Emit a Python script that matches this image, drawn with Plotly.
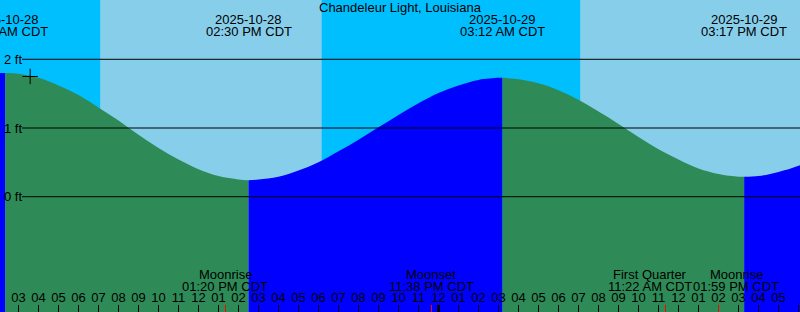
import pandas as pd
import plotly.graph_objects as go

# ---------------- data ----------------
STATION = "Chandeleur Light, Louisiana"

# hourly tide heights (ft), 2025-10-28 02:00 .. 2025-10-29 19:00
SAMPLE_START = "2025-10-28 02:00"
HEIGHTS = [1.80, 1.79, 1.73, 1.62, 1.48, 1.30, 1.11, 0.90, 0.71, 0.54, 0.40, 0.30,
           0.25, 0.25, 0.29, 0.38, 0.50, 0.66, 0.83, 1.01, 1.19, 1.36, 1.51, 1.62,
           1.70, 1.73, 1.71, 1.65, 1.55, 1.41, 1.24, 1.06, 0.87, 0.69, 0.54, 0.41,
           0.33, 0.29, 0.30, 0.36, 0.45, 0.59]

# high / low tides
EXT_TIMES = ["2025-10-28 02:20", "2025-10-28 14:30", "2025-10-29 03:12", "2025-10-29 15:17"]
EXT_HEIGHTS = [1.80, 0.24, 1.73, 0.29]
EXT_TYPES = ["High", "Low", "High", "Low"]

# sun events (day / night shading)
SUNRISE = ["2025-10-28 07:05", "2025-10-29 07:05"]
SUNSET = ["2025-10-28 18:10"]

# moon events
MOON_NAMES = ["Moonrise", "Moonset", "First Quarter", "Moonrise"]
MOON_TIMES = ["2025-10-28 13:20", "2025-10-28 23:38", "2025-10-29 11:22", "2025-10-29 13:59"]

# current time mark
NOW_TIME = "2025-10-28 03:35"
NOW_HEIGHT = 1.75

FT_LEVELS = [0, 1, 2]
FT_LABELS = ["0 ft", "1 ft", "2 ft"]

X_RANGE = ["2025-10-28 02:04:30", "2025-10-29 18:04:30"]
Y_RANGE = [-1.678, 2.863]

# ---------------- styles ----------------
NIGHT = "#00BFFF"
DAY = "#87CEEB"
RISING = "#0000FF"
FALLING = "#2E8B57"
FONT = dict(family="Liberation Sans", size=13, color="black")
W, H = 800, 312
MOON_LABEL_SHIFT = [0, 0, -16, 18]   # px, labels nudged apart to avoid overlap
GRID_X0 = 22                          # px where the level lines start

sample_times = pd.date_range(SAMPLE_START, periods=len(HEIGHTS), freq="h")
ext_index = pd.to_datetime(EXT_TIMES)
series = pd.concat([
    pd.Series(HEIGHTS, index=sample_times),
    pd.Series(EXT_HEIGHTS, index=ext_index),
]).sort_index()
series = series[~series.index.duplicated(keep="last")]

bounds = [series.index[0]] + list(ext_index) + [series.index[-1]]
# segment i ends at extreme i (rising if that is a high); last segment follows the last extreme
seg_rising = [t == "High" for t in EXT_TYPES] + [EXT_TYPES[-1] == "Low"]

fig = go.Figure()
for (b0, b1), rising in zip(zip(bounds[:-1], bounds[1:]), seg_rising):
    seg = series[(series.index >= b0) & (series.index <= b1)]
    if len(seg) < 2:
        continue
    color = RISING if rising else FALLING
    fig.add_trace(go.Scatter(x=seg.index, y=[Y_RANGE[0]] * len(seg), mode="lines",
                             line=dict(width=0, color=color), hoverinfo="skip",
                             showlegend=False))
    fig.add_trace(go.Scatter(x=seg.index, y=seg.values, mode="lines",
                             line=dict(width=0, color=color, shape="spline"),
                             fill="tonexty", fillcolor=color, hoverinfo="skip",
                             showlegend=False))

fig.add_trace(go.Scatter(x=[NOW_TIME], y=[NOW_HEIGHT], mode="markers",
                         marker=dict(symbol="cross-thin", size=11,
                                     line=dict(width=1, color="black")),
                         showlegend=False, hoverinfo="skip"))

# dummy traces to activate overlay axes
fig.add_trace(go.Scatter(x=MOON_TIMES, y=[0] * len(MOON_TIMES), xaxis="x2",
                         mode="markers", marker=dict(opacity=0), showlegend=False,
                         hoverinfo="skip"))
fig.add_trace(go.Scatter(x=MOON_TIMES, y=[0] * len(MOON_TIMES), xaxis="x3",
                         mode="markers", marker=dict(opacity=0), showlegend=False,
                         hoverinfo="skip"))

# day / night background
shapes = []
edges = sorted([(pd.Timestamp(t), "day") for t in SUNRISE] +
               [(pd.Timestamp(t), "night") for t in SUNSET])
cur_start, cur_state = pd.Timestamp(X_RANGE[0]), ("night" if edges[0][1] == "day" else "day")
for t, state in edges + [(pd.Timestamp(X_RANGE[1]), None)]:
    shapes.append(dict(type="rect", xref="x", yref="paper", x0=cur_start, x1=t, y0=0, y1=1,
                       fillcolor=DAY if cur_state == "day" else NIGHT, line=dict(width=0),
                       layer="below"))
    cur_start, cur_state = t, state

for lvl in FT_LEVELS:
    shapes.append(dict(type="line", xref="paper", yref="y", x0=GRID_X0 / W, x1=1, y0=lvl, y1=lvl,
                       line=dict(color="black", width=1), layer="above"))

annotations = []
for t, h in zip(ext_index, EXT_HEIGHTS):
    annotations.append(dict(x=t, xref="x", y=1 - 19.5 / H, yref="paper", showarrow=False,
                            text=t.strftime("%Y-%m-%d"), font=FONT, yanchor="middle"))
    annotations.append(dict(x=t, xref="x", y=1 - 31.5 / H, yref="paper", showarrow=False,
                            text=t.strftime("%I:%M %p CDT"), font=FONT, yanchor="middle"))
for name, t, dx in zip(MOON_NAMES, pd.to_datetime(MOON_TIMES), MOON_LABEL_SHIFT):
    annotations.append(dict(x=t, xref="x", y=1 - 274 / H, yref="paper", showarrow=False,
                            text=name, font=FONT, yanchor="middle", xshift=dx))
    annotations.append(dict(x=t, xref="x", y=1 - 286 / H, yref="paper", showarrow=False,
                            text=t.strftime("%I:%M %p CDT"), font=FONT, yanchor="middle",
                            xshift=dx))
annotations.append(dict(x=0.5, xref="paper", y=1 - 7.5 / H, yref="paper", showarrow=False,
                        text=STATION, font=FONT, yanchor="middle"))

fig.update_layout(
    width=W, height=H, margin=dict(l=0, r=0, t=0, b=0),
    paper_bgcolor=NIGHT, plot_bgcolor=NIGHT,
    shapes=shapes, annotations=annotations,
    xaxis=dict(type="date", range=X_RANGE, tickmode="linear", tick0="2025-10-28 00:00",
               dtick=3600000, tickformat="%I", ticks="inside", ticklen=7, tickwidth=1,
               tickcolor="black", ticklabelposition="inside", tickfont=FONT,
               showgrid=False, zeroline=False, showline=False, fixedrange=True),
    xaxis2=dict(type="date", range=X_RANGE, overlaying="x", anchor="y", side="bottom",
                tickmode="array", tickvals=MOON_TIMES, ticks="inside", ticklen=7,
                tickwidth=1, tickcolor="red", showticklabels=False, showgrid=False,
                zeroline=False, showline=False),
    xaxis3=dict(type="date", range=X_RANGE, overlaying="x", anchor="y", side="bottom",
                tickmode="array", tickvals=["2025-10-29 00:00"], ticks="inside", ticklen=7,
                tickwidth=3, tickcolor="black", showticklabels=False, showgrid=False,
                zeroline=False, showline=False),
    yaxis=dict(range=Y_RANGE, tickmode="array", tickvals=FT_LEVELS, ticktext=FT_LABELS,
               ticks="", ticklabelposition="outside", tickfont=FONT, showgrid=False,
               anchor="free", position=GRID_X0 / W, ticklabelstandoff=0,
               zeroline=False, showline=False, fixedrange=True),
    showlegend=False,
)

fig.write_html("out.html")
